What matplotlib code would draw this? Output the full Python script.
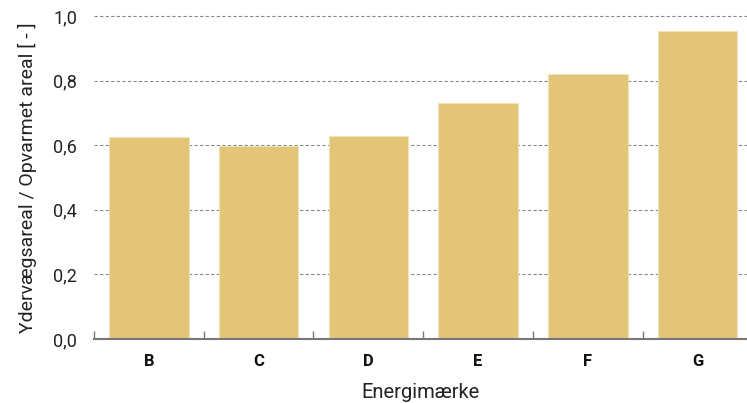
import matplotlib
matplotlib.use("Agg")
import matplotlib.pyplot as plt
from matplotlib.ticker import FixedLocator

plt.rcParams['font.family'] = ['Roboto', 'DejaVu Sans']

categories = ['B', 'C', 'D', 'E', 'F', 'G']
values = [0.626, 0.598, 0.630, 0.731, 0.820, 0.954]
yticks = [0.0, 0.2, 0.4, 0.6, 0.8, 1.0]
ytick_labels = ['0,0', '0,2', '0,4', '0,6', '0,8', '1,0']

fig = plt.figure(figsize=(7.47, 4.03), dpi=100)
ax = fig.add_axes([94/747, 1-339/403, 1-94/747, (339-16)/403])

x = list(range(len(categories)))
ax.bar(x, values, width=0.725, color='#E3C578', edgecolor='#F3E2B5', linewidth=0.8, zorder=3)

ax.set_ylim(0, 1.0)
ax.set_xlim(-0.5, 5.45)
ax.set_yticks(yticks)
ax.set_yticklabels(ytick_labels)
ax.set_xticks(x)
ax.set_xticklabels(categories, fontweight='bold')
ax.xaxis.set_minor_locator(FixedLocator([i - 0.5 for i in range(len(categories) + 1)]))

ax.tick_params(axis='y', length=0, labelsize=13, pad=12, labelcolor='#222222')
ax.tick_params(axis='x', which='major', length=0, labelsize=12, pad=11, labelcolor='#111111')
ax.tick_params(axis='x', which='minor', direction='in', length=6, width=1, color='#777777')

for y in yticks[1:]:
    ax.axhline(y, color='#8a8a8a', linestyle=(0, (3, 2)), linewidth=0.8, zorder=1, clip_on=False)

for s in ['top', 'right', 'left']:
    ax.spines[s].set_visible(False)
ax.spines['bottom'].set_color('#777777')
ax.spines['bottom'].set_linewidth(1.5)
ax.spines['bottom'].set_zorder(4)

ax.set_xlabel('Energimærke', fontsize=14.5, labelpad=10, color='#222222')
ax.set_ylabel('Ydervægsareal / Opvarmet areal [ - ]', fontsize=14, labelpad=12, color='#222222')

fig.savefig('out.png', dpi=100)
